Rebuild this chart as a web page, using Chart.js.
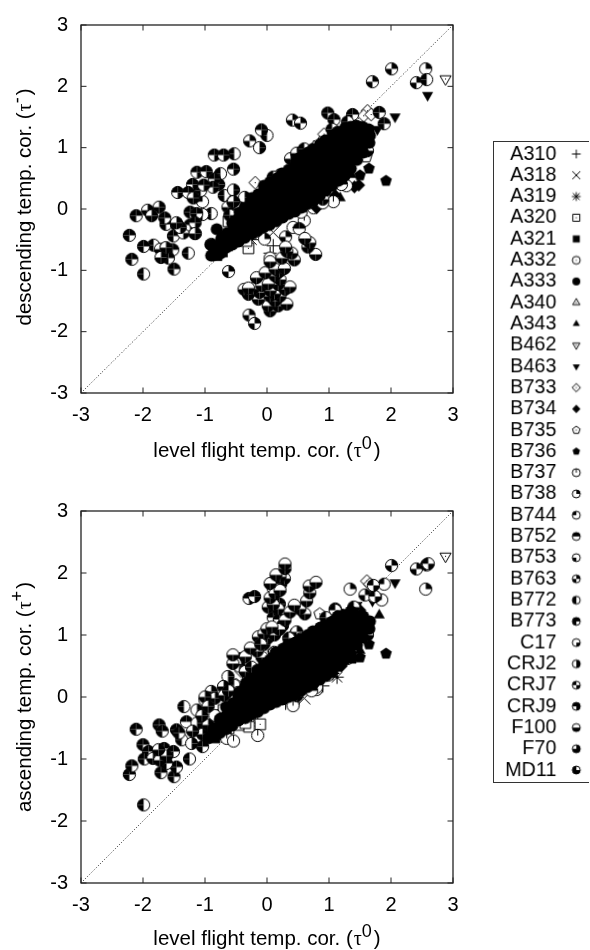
<!DOCTYPE html>
<html>
<head>
<meta charset="utf-8">
<title>temperature corrections</title>
<script src="https://cdn.jsdelivr.net/npm/chart.js@4"></script>
<style>
  html, body { margin: 0; padding: 0; background: #fff; }
  canvas { position: absolute; display: block; }
  #legendChart { border-left: 1px solid #333; border-top: 1px solid #333; border-bottom: 1px solid #333; }
  .axisTitle { position: absolute; white-space: nowrap; color: #000; font: 20.5px "Liberation Sans", Arial, sans-serif; line-height: 24px; }
  .axisTitle i { font: 20px "Liberation Serif", serif; margin-left: 1px; }
  .axisTitle sup { font-size: 18px; line-height: 0; position: relative; top: -8px; vertical-align: baseline; margin-right: 2px; }
</style>
</head>
<body>
<canvas id="descChart" width="480" height="470" style="left:0;top:0"></canvas>
<canvas id="ascChart" width="480" height="470" style="left:0;top:480px"></canvas>
<canvas id="legendChart" width="96" height="642" style="left:493px;top:141px"></canvas>
<div class="axisTitle" style="left:267px;top:450px;transform:translate(-50%,-50%)">level flight temp. cor. (<i>τ</i><sup>0</sup>)</div>
<div class="axisTitle" style="left:267px;top:938px;transform:translate(-50%,-50%)">level flight temp. cor. (<i>τ</i><sup>0</sup>)</div>
<div class="axisTitle" style="left:24px;top:207px;transform:translate(-50%,-50%) rotate(-90deg)">descending temp. cor. (<i>τ</i><sup>-</sup>)</div>
<div class="axisTitle" style="left:24px;top:697px;transform:translate(-50%,-50%) rotate(-90deg)">ascending temp. cor. (<i>τ</i><sup>+</sup>)</div>
<script>
const aircraft = ['A310','A318','A319','A320','A321','A332','A333','A340','A343','B462','B463','B733','B734','B735','B736',
  'B737','B738','B744','B752','B753','B763','B772','B773','C17','CRJ2','CRJ7','CRJ9','F100','F70','MD11'];
const symbols = ['plus','cross','star','square','squareF','circle','circleF','tri','triF','triD','triDF','dia','diaF','pent','pentF',
  0,1,2,3,4,5,6,7,8,9,10,11,12,13,14];
const tickValues = [-3,-2,-1,0,1,2,3];
const diagonal = [[-3,-3],[3,3]];

// descending vs level flight
const descA310 = [[0.05,-0.72],[0.1,-0.6],[-0.42,-0.3],[0.5,0.02]];
const descA318 = [[-0.5,-0.42],[0.1,-0.38]];
const descA319 = [[-0.11,-0.41],[-0.46,-0.46],[-0.6,-0.42],[-0.25,-0.5],[-0.55,-0.1]];
const descA320 = [[-0.3,-0.64],[-0.33,-0.52],[-0.56,-0.5],[-0.7,-0.58],[-0.62,-0.2]];
const descA321 = [[-0.81,-0.76],[-0.72,-0.7],[-0.78,-0.64],[-0.64,-0.6]];
const descA332 = [[0.42,-0.3],[1.02,0.2],[0.75,0.02]];
const descA333 = [
  [-0.9,-0.76],[-0.91,-0.58],[-0.81,-0.33],[-0.72,-0.45],
  [-0.86,-0.75],[-0.85,-0.66],
  [-0.76,-0.73],[-0.75,-0.61],[-0.74,-0.5],
  [-0.66,-0.63],[-0.65,-0.5],[-0.64,-0.39],
  [-0.56,-0.58],[-0.55,-0.47],[-0.54,-0.34],[-0.56,-0.23],
  [-0.46,-0.53],[-0.44,-0.41],[-0.45,-0.28],[-0.46,-0.16],[-0.44,-0.06],
  [-0.36,-0.47],[-0.35,-0.33],[-0.34,-0.22],[-0.35,-0.1],[-0.36,0.02],
  [-0.25,-0.41],[-0.26,-0.28],[-0.24,-0.17],[-0.25,-0.04],[-0.26,0.08],[-0.24,0.18],
  [-0.16,-0.36],[-0.15,-0.24],[-0.14,-0.12],[-0.16,0.0],[-0.15,0.12],[-0.14,0.24],
  [-0.06,-0.3],[-0.05,-0.19],[-0.04,-0.06],[-0.05,0.06],[-0.06,0.18],[-0.04,0.3],[-0.05,0.38],
  [0.04,-0.26],[0.05,-0.14],[0.06,-0.02],[0.05,0.1],[0.04,0.22],[0.06,0.34],[0.05,0.44],
  [0.15,-0.2],[0.14,-0.08],[0.16,0.04],[0.15,0.16],[0.14,0.28],[0.15,0.4],[0.16,0.5],
  [0.25,-0.14],[0.26,-0.02],[0.24,0.1],[0.25,0.22],[0.26,0.34],[0.25,0.46],[0.24,0.58],
  [0.35,-0.08],[0.34,0.04],[0.36,0.16],[0.35,0.28],[0.34,0.4],[0.36,0.52],[0.35,0.64],
  [0.45,-0.04],[0.46,0.08],[0.44,0.2],[0.45,0.32],[0.46,0.44],[0.44,0.56],[0.45,0.68],[0.46,0.76],
  [0.55,0.02],[0.54,0.14],[0.56,0.26],[0.55,0.38],[0.54,0.5],[0.56,0.62],[0.55,0.74],[0.54,0.84],
  [0.65,0.08],[0.66,0.2],[0.64,0.32],[0.65,0.44],[0.66,0.56],[0.64,0.68],[0.65,0.8],[0.66,0.92],
  [0.75,0.14],[0.74,0.26],[0.76,0.38],[0.75,0.5],[0.74,0.62],[0.76,0.74],[0.75,0.86],[0.74,0.98],
  [0.85,0.22],[0.86,0.34],[0.84,0.46],[0.85,0.58],[0.86,0.7],[0.84,0.82],[0.85,0.94],[0.86,1.06],
  [0.95,0.3],[0.94,0.42],[0.96,0.54],[0.95,0.66],[0.94,0.78],[0.96,0.9],[0.95,1.02],[0.94,1.12],
  [1.05,0.38],[1.06,0.5],[1.04,0.62],[1.05,0.74],[1.06,0.86],[1.04,0.98],[1.05,1.1],[1.06,1.2],
  [1.15,0.46],[1.14,0.58],[1.16,0.7],[1.15,0.82],[1.14,0.94],[1.16,1.06],[1.15,1.18],[1.14,1.26],
  [1.25,0.54],[1.26,0.66],[1.24,0.78],[1.25,0.9],[1.26,1.02],[1.24,1.14],[1.25,1.26],[1.26,1.32],
  [1.35,0.66],[1.34,0.78],[1.36,0.9],[1.35,1.02],[1.34,1.14],[1.36,1.26],[1.35,1.34],
  [1.45,0.8],[1.46,0.92],[1.44,1.04],[1.45,1.16],[1.46,1.28],[1.44,1.36],
  [1.55,0.92],[1.54,1.04],[1.56,1.16],[1.55,1.28],[1.54,1.34],
  [1.65,1.08],[1.66,1.2],[1.64,1.3]
];
const descA340 = [[0.91,1.19],[0.76,1.02],[-0.46,-0.12]];
const descA343 = [[1.18,0.18],[1.36,0.56],[1.6,1.0]];
const descB462 = [[2.88,2.12]];
const descB463 = [[2.59,1.855],[2.065,1.505],[1.78,1.3]];
const descB733 = [[1.62,1.6],[1.56,1.52],[1.68,1.54],[-0.19,0.43],[0.92,1.22]];
const descB734 = [[1.48,0.39],[1.41,0.36],[1.1,0.22],[0.8,0.02]];
const descB735 = [[0.18,0.55],[1.36,0.86],[1.6,0.85]];
const descB736 = [[1.645,0.66],[1.92,0.46],[1.5,0.55]];
const descB737 = [[1.07,0.12],[0.6,-0.19],[1.28,0.38]];
const descB738 = [[2.56,2.285],[0.55,-0.05],[-0.04,-0.49]];
const descB744 = [[-1.04,0.12],[0.9,0.1]];
const descB752 = [[0.52,-0.32],[1.2,0.4]];
const descB753 = [[-1.16,-0.4]];
const descB763 = [[-0.62,-1.02],[1.7,2.075],[2.01,2.285],[2.41,2.06],[0.41,1.45],[0.54,1.4],[0.38,0.82],[0.48,0.91],[-0.29,-1.73],[-0.2,-1.865],[-0.28,1.11],[0.3,-0.455]];
const descB772 = [[0,1.2],[-1.99,-1.06],[-0.53,0.9],[-0.75,0.575],[-1.27,-0.72],[-1.83,-0.59],[-1.07,0.3],[-0.69,0.22],[2.575,2.11],[-0.9,-0.075],[-1.04,-0.09]];
const descB773 = [[-1.5,-0.98],[-2.22,-0.43],[-1.63,-0.25],[-1.65,-0.145],[-2.18,-0.82],[0.98,1.565],[1.08,1.457],[1.38,1.54],[1.81,1.575],[1.89,1.39],[-1.46,-0.26],[-1.51,-0.44],[-1.24,-0.05],[-1.135,-0.075],[-2.11,-0.11],[-1.52,-0.665],[-1.59,-0.8],[-1.99,-0.61]];
const descC17 = [[0.05,-0.8]];
const descCRJ2 = [[-0.54,0.31],[-0.78,0.4],[-0.12,1.0],[-0.36,0.19]];
const descCRJ7 = [[-1.35,-0.39]];
const descCRJ9 = [[-0.09,1.29],[-0.85,0.88],[-0.7,0.88],[-0.54,0.65],[-1.13,0.6],[-0.98,0.61],[-0.85,0.49],[-0.87,0.355],[-1.2,0.4],[-1.02,0.39],[-1.44,0.27],[-1.27,0.27],[-1.24,-0.26],[-1.16,-0.225],[-1.4,-0.3]];
const descF100 = [[0.05,-1.66],[0.02,-1.58],[0.18,-1.58],[0.32,-1.55],[0.13,-1.5],[-0.14,-1.47],[0.21,-1.42],[0.05,-1.42],[-0.3,-1.39],[0.12,-1.38],[-0.12,-1.36],[-0.37,-1.31],[0.29,-1.31],[-0.22,-1.3],[0.05,-1.33],[-0.3,-1.29],[0.37,-1.27],[-0.085,-1.25],[0.18,-1.23],[0.02,-1.22],[0.21,-1.15],[-0.17,-1.12],[0.13,-1.09],[-0.03,-1.04],[0.2,-1.02],[0.13,-0.98],[0.28,-0.97],[0.05,-0.86],[0.44,-0.83],[0.24,-0.8],[0.785,-0.74],[0.4,-0.72],[0.32,-0.69],[0.3,-0.62],[0.66,-0.62],[0.69,-0.55],[0.61,-0.48]];
const descF70 = [[-1.74,0.03],[-1.925,-0.02],[-1.86,-0.11],[-1.46,-0.225],[-1.19,0.18],[-0.63,0.03],[-0.55,0.12],[-0.435,0.016],[-1.72,-0.655],[-1.63,-0.63],[-1.71,-0.79],[-0.9,-0.575],[-0.54,0.12],[-1.16,-0.4]];
const descMD11 = [[-0.3,-0.05],[0.6,0.98],[1.05,1.3],[1.3,1.42],[-0.6,-0.1],[0.1,0.52],[1.62,0.95],[0.9,0.16]];

// ascending vs level flight
const ascA310 = [[-0.15,-0.42],[0.3,-0.1],[0.9,0.18]];
const ascA318 = [[-0.4,-0.42],[0.6,-0.02]];
const ascA319 = [[1.13,0.32],[1.06,0.38],[-0.6,-0.45],[-0.25,-0.42],[-0.78,-0.62]];
const ascA320 = [[-0.11,-0.44],[-0.29,-0.48],[-0.46,-0.45],[-0.62,-0.505],[-0.7,-0.21],[-0.35,-0.42]];
const ascA321 = [[-0.84,-0.66],[-0.74,-0.6],[-0.66,-0.52]];
const ascA332 = [[0.42,-0.1],[0.8,0.12],[1.3,0.62]];
const ascA333 = [
  [-0.95,-0.667],[-0.87,-0.53],[-0.76,-0.37],
  [-0.86,-0.62],[-0.85,-0.5],
  [-0.76,-0.58],[-0.75,-0.46],[-0.74,-0.34],
  [-0.66,-0.52],[-0.65,-0.4],[-0.64,-0.28],[-0.66,-0.16],
  [-0.56,-0.46],[-0.55,-0.34],[-0.54,-0.22],[-0.55,-0.1],
  [-0.46,-0.38],[-0.45,-0.26],[-0.44,-0.14],[-0.46,-0.02],[-0.45,0.08],
  [-0.35,-0.34],[-0.36,-0.22],[-0.34,-0.1],[-0.35,0.02],[-0.36,0.14],[-0.34,0.22],
  [-0.25,-0.28],[-0.24,-0.16],[-0.26,-0.04],[-0.25,0.08],[-0.24,0.2],[-0.26,0.3],
  [-0.15,-0.24],[-0.16,-0.12],[-0.14,0.0],[-0.15,0.12],[-0.16,0.24],[-0.14,0.36],[-0.15,0.44],
  [-0.05,-0.18],[-0.04,-0.06],[-0.06,0.06],[-0.05,0.18],[-0.04,0.3],[-0.06,0.42],[-0.05,0.52],
  [0.05,-0.12],[0.06,0.0],[0.04,0.12],[0.05,0.24],[0.06,0.36],[0.04,0.48],[0.05,0.6],
  [0.15,-0.08],[0.14,0.04],[0.16,0.16],[0.15,0.28],[0.14,0.4],[0.16,0.52],[0.15,0.64],[0.14,0.72],
  [0.25,-0.04],[0.26,0.08],[0.24,0.2],[0.25,0.32],[0.26,0.44],[0.24,0.56],[0.25,0.68],[0.26,0.78],
  [0.35,0.0],[0.34,0.12],[0.36,0.24],[0.35,0.36],[0.34,0.48],[0.36,0.6],[0.35,0.72],[0.34,0.84],
  [0.45,0.04],[0.46,0.16],[0.44,0.28],[0.45,0.4],[0.46,0.52],[0.44,0.64],[0.45,0.76],[0.46,0.88],
  [0.55,0.1],[0.54,0.22],[0.56,0.34],[0.55,0.46],[0.54,0.58],[0.56,0.7],[0.55,0.82],[0.54,0.94],
  [0.65,0.16],[0.66,0.28],[0.64,0.4],[0.65,0.52],[0.66,0.64],[0.64,0.76],[0.65,0.88],[0.66,1.0],
  [0.75,0.22],[0.74,0.34],[0.76,0.46],[0.75,0.58],[0.74,0.7],[0.76,0.82],[0.75,0.94],[0.74,1.06],
  [0.85,0.28],[0.86,0.4],[0.84,0.52],[0.85,0.64],[0.86,0.76],[0.84,0.88],[0.85,1.0],[0.86,1.12],
  [0.95,0.34],[0.94,0.46],[0.96,0.58],[0.95,0.7],[0.94,0.82],[0.96,0.94],[0.95,1.06],[0.94,1.16],
  [1.05,0.4],[1.06,0.52],[1.04,0.64],[1.05,0.76],[1.06,0.88],[1.04,1.0],[1.05,1.12],[1.06,1.22],
  [1.15,0.5],[1.14,0.62],[1.16,0.74],[1.15,0.86],[1.14,0.98],[1.16,1.1],[1.15,1.22],[1.14,1.3],
  [1.25,0.6],[1.26,0.72],[1.24,0.84],[1.25,0.96],[1.26,1.08],[1.24,1.2],[1.25,1.32],
  [1.35,0.7],[1.34,0.82],[1.36,0.94],[1.35,1.06],[1.34,1.18],[1.36,1.3],[1.35,1.38],
  [1.45,0.84],[1.46,0.96],[1.44,1.08],[1.45,1.2],[1.46,1.3],
  [1.55,0.96],[1.54,1.08],[1.56,1.2],[1.55,1.3],
  [1.65,1.1],[1.66,1.22]
];
const ascA340 = [[1.1,1.2],[0.4,1.0],[-0.8,-0.3]];
const ascA343 = [[1.81,1.32],[1.5,0.75]];
const ascB462 = [[2.88,2.27]];
const ascB463 = [[2.065,1.845],[1.45,1.48],[1.7,1.55]];
const ascB733 = [[1.61,1.87],[1.66,1.82],[-0.42,0.42]];
const ascB734 = [[1.5,1.4],[0.7,0.22],[1.2,0.5]];
const ascB735 = [[0.85,1.34],[0.1,0.72],[-0.5,0.2]];
const ascB736 = [[1.92,0.7],[1.645,0.85],[1.5,0.64],[1.38,0.62]];
const ascB737 = [[0.8,0.16],[0.42,-0.14],[-0.15,-0.62],[-0.65,-0.667],[-0.54,-0.71]];
const ascB738 = [[2.56,1.74],[1.34,1.74],[1.2,1.32],[0.72,0.1]];
const ascB744 = [[1.85,1.565],[1.89,1.82],[1.72,1.62],[0.99,0.355]];
const ascB752 = [[-1.3,-0.4],[1.1,1.42],[-0.9,0.0]];
const ascB753 = [[-1.03,-0.425]];
const ascB763 = [[2.01,2.12],[2.41,2.065],[0.48,1.05],[0.56,0.95],[1.58,1.645]];
const ascB772 = [[-1.99,-1.74],[-1.34,-0.155],[-1.25,-1.0],[-1.376,-0.69],[2.575,2.13],[-0.53,0.19],[-0.68,0.03]];
const ascB773 = [[-2.11,-0.52],[-1.74,-0.45],[-1.46,-0.53],[-2.0,-0.77],[-1.91,-0.88],[-1.98,-1.0],[-1.5,-1.285],[-1.71,-1.22],[-2.22,-1.25],[-2.18,-1.11],[-1.46,-1.13],[-1.69,-0.55],[-1.62,-1.07],[-1.66,-0.83],[-1.51,-0.88],[-1.42,-0.58],[-1.04,-0.8]];
const ascC17 = [[-0.84,-0.3]];
const ascCRJ2 = [[-1.215,-0.75],[-1.13,-0.42],[-1.13,-0.21],[-1.0,-0.05],[-0.7,0.16],[-0.63,0.33]];
const ascCRJ7 = [[2.6,2.15],[1.1,1.4],[1.74,1.62],[1.715,1.8]];
const ascCRJ9 = [[-0.29,1.59],[-0.2,1.62],[0.1,1.28],[0.2,1.5],[0.1,1.75],[0.22,1.82],[0.2,1.25],[-0.05,0.85],[0.25,1.15],[-0.45,0.5],[-0.42,0.62]];
const ascF100 = [[-0.3,0.3],[-0.35,0.41],[-0.55,0.54],[-0.08,0.64],[-0.35,0.65],[-0.55,0.68],[0.12,0.72],[-0.16,0.74],[-0.27,0.79],[0.01,0.95],[-0.14,0.97],[0.12,1.0],[-0.05,1.02],[0.2,1.09],[0,1.1],[0.08,1.13],[0.29,1.24],[0.18,1.42],[0.02,1.45],[0.1,1.49],[0.05,1.6],[0.13,1.67],[0.21,1.72],[0.05,1.83],[0.28,1.91],[0.21,1.94],[0.145,1.97],[0.29,2.07],[0.29,2.145],[0.37,1.37],[0.61,1.34],[0.53,1.42],[0.44,1.48],[0.64,1.55],[0.69,1.68],[0.68,1.79],[0.79,1.85]];
const ascF70 = [[-1.84,-0.99],[-1.73,-1.02],[-1.62,-0.95],[-1.75,-0.85],[-1.04,-0.6],[-0.95,-0.45],[-0.9,0.09],[-0.84,-0.02],[-0.7,0.17],[-0.69,0.03],[-0.47,0.07],[-1.0,0.0],[-1.2,-0.55],[-1.05,-0.3],[-0.95,-0.15]];
const ascMD11 = [[-0.25,0.48],[-0.1,0.85],[0.35,0.95],[0.95,1.28],[1.4,1.45],[-0.62,0.1],[0.48,0.02],[1.62,1.0]];

const descSeries = [descA310,descA318,descA319,descA320,descA321,descA332,descA333,descA340,descA343,descB462,descB463,descB733,descB734,descB735,descB736,
  descB737,descB738,descB744,descB752,descB753,descB763,descB772,descB773,descC17,descCRJ2,descCRJ7,descCRJ9,descF100,descF70,descMD11];
const ascSeries = [ascA310,ascA318,ascA319,ascA320,ascA321,ascA332,ascA333,ascA340,ascA343,ascB462,ascB463,ascB733,ascB734,ascB735,ascB736,
  ascB737,ascB738,ascB744,ascB752,ascB753,ascB763,ascB772,ascB773,ascC17,ascCRJ2,ascCRJ7,ascCRJ9,ascF100,ascF70,ascMD11];

const fontFamily = '"Liberation Sans", Arial, sans-serif';

// draws one gnuplot style symbol on a little canvas, chart.js takes it as pointStyle
function makeMarker(kind, r) {
  const size = Math.ceil(r * 2 + 4);
  const c = document.createElement('canvas');
  c.width = c.height = size;
  const ctx = c.getContext('2d');
  ctx.translate(size / 2, size / 2);
  ctx.strokeStyle = '#000';
  ctx.fillStyle = '#000';
  ctx.lineWidth = 1;

  function poly(pts, filled) {
    ctx.beginPath();
    pts.forEach(function(p, i) { i ? ctx.lineTo(p[0], p[1]) : ctx.moveTo(p[0], p[1]); });
    ctx.closePath();
    if (filled) {
      ctx.fill();
    } else {
      ctx.fillStyle = '#fff';
      ctx.fill();
      ctx.fillStyle = '#000';
      ctx.stroke();
      ctx.fillRect(-0.5, -0.5, 1, 1);
    }
  }
  function lines(segs) {
    ctx.beginPath();
    segs.forEach(function(s) { ctx.moveTo(s[0], s[1]); ctx.lineTo(s[2], s[3]); });
    ctx.stroke();
  }
  function ngon(n, rot, rad) {
    const pts = [];
    for (let i = 0; i < n; i++) {
      const a = rot + i * 2 * Math.PI / n;
      pts.push([rad * Math.cos(a), rad * Math.sin(a)]);
    }
    return pts;
  }

  const up = -Math.PI / 2;
  if (typeof kind === 'number') {
    ctx.beginPath();
    ctx.arc(0, 0, r, 0, 2 * Math.PI);
    ctx.fillStyle = '#fff';
    ctx.fill();
    ctx.fillStyle = '#000';
    // bit 0 upper right, 1 upper left, 2 lower left, 3 lower right
    const starts = [-Math.PI / 2, Math.PI, Math.PI / 2, 0];
    for (let q = 0; q < 4; q++) {
      if (kind & (1 << q)) {
        ctx.beginPath();
        ctx.moveTo(0, 0);
        ctx.arc(0, 0, r, starts[q], starts[q] + Math.PI / 2);
        ctx.closePath();
        ctx.fill();
      }
    }
    ctx.beginPath();
    ctx.arc(0, 0, r, 0, 2 * Math.PI);
    ctx.stroke();
    if (kind === 0) lines([[0, 0, 0, -r]]);
  } else if (kind === 'plus') {
    lines([[-r * 1.1, 0, r * 1.1, 0], [0, -r * 1.1, 0, r * 1.1]]);
  } else if (kind === 'cross') {
    lines([[-r, -r, r, r], [-r, r, r, -r]]);
  } else if (kind === 'star') {
    lines([[-r * 1.1, 0, r * 1.1, 0], [0, -r * 1.1, 0, r * 1.1], [-r * 0.85, -r * 0.85, r * 0.85, r * 0.85], [-r * 0.85, r * 0.85, r * 0.85, -r * 0.85]]);
  } else if (kind === 'square' || kind === 'squareF') {
    const s = r * 0.88;
    poly([[-s, -s], [s, -s], [s, s], [-s, s]], kind === 'squareF');
  } else if (kind === 'circle' || kind === 'circleF') {
    ctx.beginPath();
    ctx.arc(0, 0, r, 0, 2 * Math.PI);
    if (kind === 'circleF') {
      ctx.fill();
    } else {
      ctx.stroke();
      ctx.fillRect(-0.5, -0.5, 1, 1);
    }
  } else if (kind === 'tri' || kind === 'triF') {
    poly(ngon(3, up, r * 1.05), kind === 'triF');
  } else if (kind === 'triD' || kind === 'triDF') {
    poly(ngon(3, -up, r * 1.05), kind === 'triDF');
  } else if (kind === 'dia' || kind === 'diaF') {
    poly(ngon(4, up, r * 1.05), kind === 'diaF');
  } else if (kind === 'pent' || kind === 'pentF') {
    poly(ngon(5, up, r), kind === 'pentF');
  }
  return c;
}

const plotMarkers = symbols.map(function(k) { return makeMarker(k, 6.1); });
const legendMarkers = symbols.map(function(k) { return makeMarker(k, 4); });

// gnuplot box: closed frame with the ticks pointing inward on all four sides
const framePlugin = {
  id: 'frame',
  afterDatasetsDraw: function(chart) {
    const ctx = chart.ctx, a = chart.chartArea;
    ctx.save();
    ctx.strokeStyle = '#222';
    ctx.lineWidth = 1.3;
    ctx.strokeRect(a.left, a.top, a.right - a.left, a.bottom - a.top);
    ctx.lineWidth = 1;
    ctx.beginPath();
    chart.scales.x.ticks.forEach(function(t) {
      const px = chart.scales.x.getPixelForValue(t.value);
      ctx.moveTo(px, a.bottom); ctx.lineTo(px, a.bottom - 5.5);
      ctx.moveTo(px, a.top); ctx.lineTo(px, a.top + 5.5);
    });
    chart.scales.y.ticks.forEach(function(t) {
      const py = chart.scales.y.getPixelForValue(t.value);
      ctx.moveTo(a.left, py); ctx.lineTo(a.left + 5.5, py);
      ctx.moveTo(a.right, py); ctx.lineTo(a.right - 5.5, py);
    });
    ctx.stroke();
    ctx.restore();
  }
};

function toPoints(list) {
  return list.map(function(p) { return { x: p[0], y: p[1] }; });
}

function scatterChart(id, series, topPad) {
  const datasets = series.map(function(list, i) {
    return {
      label: aircraft[i],
      data: toPoints(list),
      pointStyle: plotMarkers[i],
      pointRadius: 6,
      // the first dataset is painted last in chart.js, A333 holds the dense core and goes on top
      order: aircraft[i] === 'A333' ? 0 : series.length - i,
      clip: false
    };
  });
  datasets.push({
    label: 'diagonal',
    data: toPoints(diagonal),
    showLine: true,
    pointRadius: 0,
    borderColor: '#222',
    borderWidth: 1,
    borderDash: [1, 2],
    order: 100
  });
  const axis = function(tickPad, fit) {
    return {
      type: 'linear',
      min: -3,
      max: 3,
      afterBuildTicks: function(scale) {
        scale.ticks = tickValues.map(function(v) { return { value: v }; });
      },
      afterFit: fit,
      grid: { drawOnChartArea: false, drawTicks: false },
      border: { display: false },
      ticks: { color: '#000', padding: tickPad, maxRotation: 0, font: { family: fontFamily, size: 20 } }
    };
  };
  return new Chart(document.getElementById(id), {
    type: 'scatter',
    data: { datasets: datasets },
    options: {
      responsive: false,
      animation: false,
      layout: { padding: { top: topPad, right: 27, left: 0, bottom: 0 } },
      plugins: { legend: { display: false }, tooltip: { enabled: false } },
      scales: {
        x: axis(10, function(s) { s.height = 470 - topPad - 372; }),
        y: axis(13, function(s) { s.width = 81; })
      }
    },
    plugins: [framePlugin]
  });
}

scatterChart('descChart', descSeries, 21);
scatterChart('ascChart', ascSeries, 31);

// legend box: labels are the category axis, symbols are one scatter dataset
new Chart(document.getElementById('legendChart'), {
  type: 'scatter',
  data: {
    datasets: [{
      data: aircraft.map(function(name) { return { x: 0.72, y: name }; }),
      pointStyle: legendMarkers,
      pointRadius: 4,
      clip: false
    }]
  },
  options: {
    responsive: false,
    animation: false,
    layout: { padding: 0 },
    plugins: { legend: { display: false }, tooltip: { enabled: false } },
    scales: {
      x: { type: 'linear', min: 0, max: 1, display: false },
      y: {
        type: 'category',
        labels: aircraft,
        offset: false,
        afterFit: function(s) { s.width = 63; },
        grid: { display: false, drawTicks: false },
        border: { display: false },
        ticks: { color: '#000', padding: 0, autoSkip: false, font: { family: fontFamily, size: 20 } }
      }
    }
  }
});
</script>
</body>
</html>
